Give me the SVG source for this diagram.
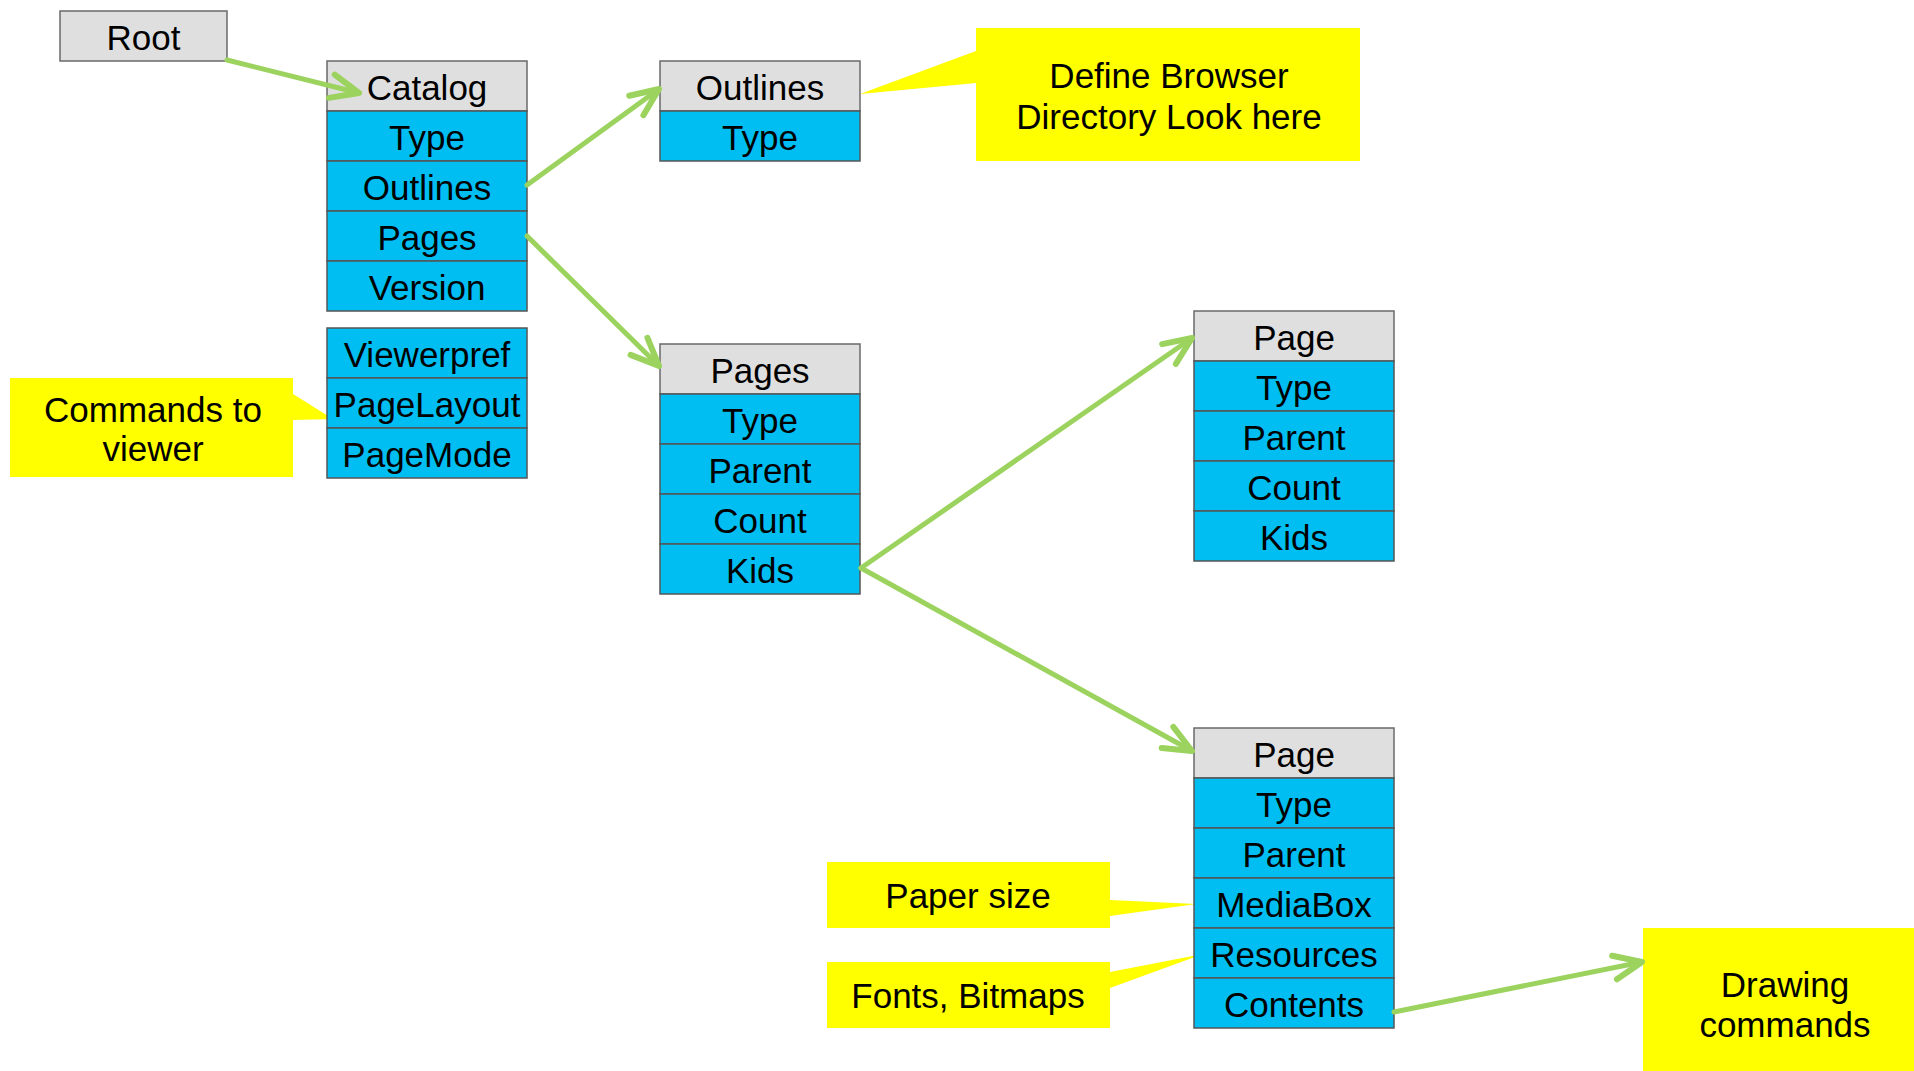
<svg xmlns="http://www.w3.org/2000/svg" width="1914" height="1071" viewBox="0 0 1914 1071">
<style>
text{font-family:"Liberation Sans",Arial,sans-serif;font-size:35px;fill:#000;text-anchor:middle}
.h{fill:#DFDFDF;stroke:#6a6a6a;stroke-width:1.5}
.b{fill:#00BEF2;stroke:#555;stroke-width:1.5}
.y{fill:#FFFF00;stroke:none}
.c{fill:none;stroke:#9BD35E;stroke-width:5;stroke-linecap:round}
</style>
<defs>
<marker id="ah" markerUnits="userSpaceOnUse" orient="auto" refX="0" refY="0" markerWidth="60" markerHeight="60" viewBox="-40 -30 60 60" overflow="visible">
<path d="M -28 -12 L 0 0 L -28 12" fill="none" stroke="#9BD35E" stroke-width="6" stroke-linecap="round" stroke-linejoin="round"/>
</marker>
</defs>
<rect width="1914" height="1071" fill="#fff"/>

<g id="callouts">
<g id="note-viewer">
<polygon class="y" points="10,378 293,378 293,394 333,419 293,420 293,477 10,477"/>
<text x="153" y="422">Commands to</text>
<text x="153" y="461">viewer</text>
</g>
<g id="note-browser">
<polygon class="y" points="976,28 1360,28 1360,161 976,161 976,83 860,94 976,51"/>
<text x="1169" y="88">Define Browser</text>
<text x="1169" y="129">Directory Look here</text>
</g>
<g id="note-paper">
<polygon class="y" points="827,862 1110,862 1110,900 1196,904 1110,916 1110,928 827,928"/>
<text x="968" y="908">Paper size</text>
</g>
<g id="note-fonts">
<polygon class="y" points="827,962 1110,962 1110,972 1203,954 1110,988 1110,1028 827,1028"/>
<text x="968" y="1008">Fonts, Bitmaps</text>
</g>
<g id="note-drawing">
<rect class="y" x="1643" y="928" width="271" height="143"/>
<text x="1785" y="997">Drawing</text>
<text x="1785" y="1037">commands</text>
</g>
</g>

<g id="root">
<rect class="h" x="60" y="11" width="167" height="50"/>
<text x="143.5" y="50">Root</text>
</g>

<g id="catalog">
<rect class="h" x="327" y="61" width="200" height="50"/>
<rect class="b" x="327" y="111" width="200" height="50"/>
<rect class="b" x="327" y="161" width="200" height="50"/>
<rect class="b" x="327" y="211" width="200" height="50"/>
<rect class="b" x="327" y="261" width="200" height="50"/>
<text x="427" y="100">Catalog</text>
<text x="427" y="150">Type</text>
<text x="427" y="200">Outlines</text>
<text x="427" y="250">Pages</text>
<text x="427" y="300">Version</text>
</g>

<g id="viewerprefs">
<rect class="b" x="327" y="328" width="200" height="50"/>
<rect class="b" x="327" y="378" width="200" height="50"/>
<rect class="b" x="327" y="428" width="200" height="50"/>
<text x="427" y="367">Viewerpref</text>
<text x="427" y="417">PageLayout</text>
<text x="427" y="467">PageMode</text>
</g>

<g id="outlines">
<rect class="h" x="660" y="61" width="200" height="50"/>
<rect class="b" x="660" y="111" width="200" height="50"/>
<text x="760" y="100">Outlines</text>
<text x="760" y="150">Type</text>
</g>

<g id="pages">
<rect class="h" x="660" y="344" width="200" height="50"/>
<rect class="b" x="660" y="394" width="200" height="50"/>
<rect class="b" x="660" y="444" width="200" height="50"/>
<rect class="b" x="660" y="494" width="200" height="50"/>
<rect class="b" x="660" y="544" width="200" height="50"/>
<text x="760" y="383">Pages</text>
<text x="760" y="433">Type</text>
<text x="760" y="483">Parent</text>
<text x="760" y="533">Count</text>
<text x="760" y="583">Kids</text>
</g>

<g id="page1">
<rect class="h" x="1194" y="311" width="200" height="50"/>
<rect class="b" x="1194" y="361" width="200" height="50"/>
<rect class="b" x="1194" y="411" width="200" height="50"/>
<rect class="b" x="1194" y="461" width="200" height="50"/>
<rect class="b" x="1194" y="511" width="200" height="50"/>
<text x="1294" y="350">Page</text>
<text x="1294" y="400">Type</text>
<text x="1294" y="450">Parent</text>
<text x="1294" y="500">Count</text>
<text x="1294" y="550">Kids</text>
</g>

<g id="page2">
<rect class="h" x="1194" y="728" width="200" height="50"/>
<rect class="b" x="1194" y="778" width="200" height="50"/>
<rect class="b" x="1194" y="828" width="200" height="50"/>
<rect class="b" x="1194" y="878" width="200" height="50"/>
<rect class="b" x="1194" y="928" width="200" height="50"/>
<rect class="b" x="1194" y="978" width="200" height="50"/>
<text x="1294" y="767">Page</text>
<text x="1294" y="817">Type</text>
<text x="1294" y="867">Parent</text>
<text x="1294" y="917">MediaBox</text>
<text x="1294" y="967">Resources</text>
<text x="1294" y="1017">Contents</text>
</g>

<g id="connectors">
<line class="c" x1="227" y1="60" x2="359" y2="93" marker-end="url(#ah)"/>
<line class="c" x1="527" y1="185" x2="659" y2="89" marker-end="url(#ah)"/>
<line class="c" x1="527" y1="236" x2="659" y2="366" marker-end="url(#ah)"/>
<line class="c" x1="861" y1="568" x2="1192" y2="338" marker-end="url(#ah)"/>
<line class="c" x1="861" y1="568" x2="1192" y2="751" marker-end="url(#ah)"/>
<line class="c" x1="1394" y1="1012" x2="1642" y2="962" marker-end="url(#ah)"/>
</g>
</svg>
